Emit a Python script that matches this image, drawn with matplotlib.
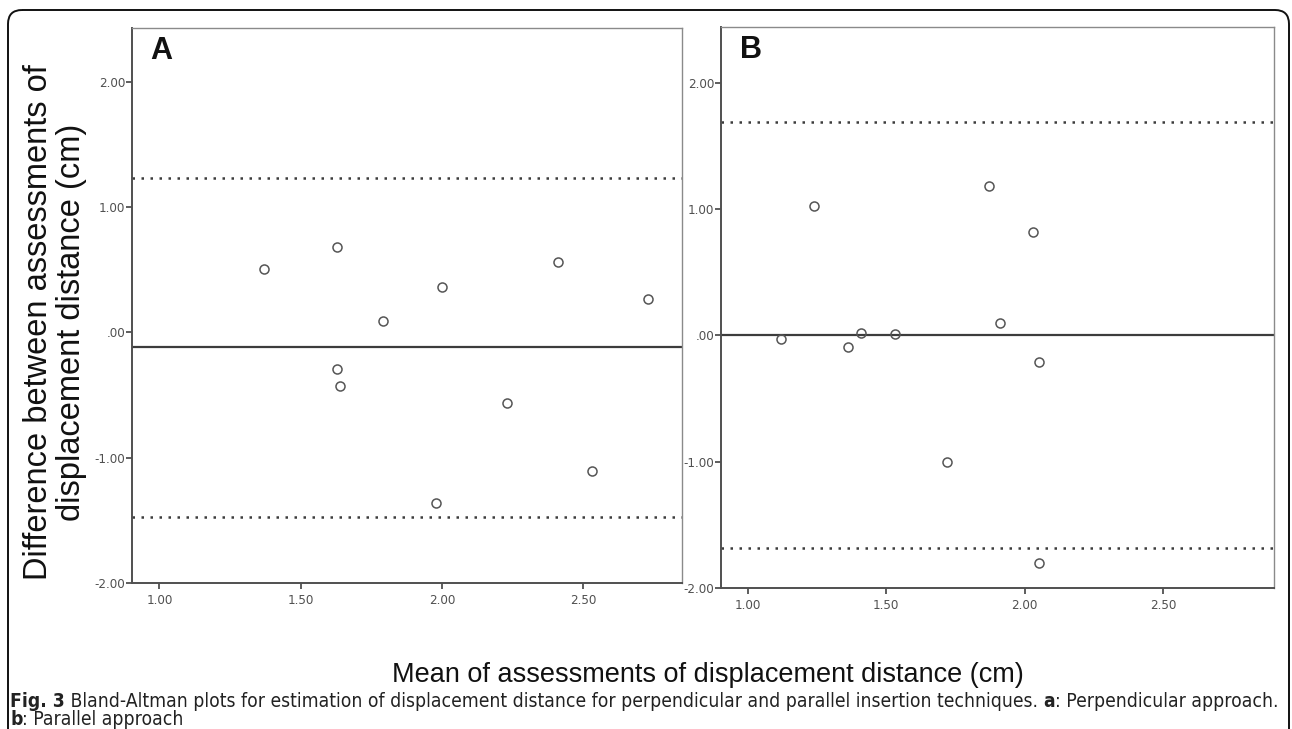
import numpy as np
import matplotlib
matplotlib.use("Agg")
import matplotlib.pyplot as plt
from matplotlib.patches import FancyBboxPatch
from matplotlib.ticker import FuncFormatter, FixedLocator
from matplotlib import font_manager

# panel A: perpendicular approach (mean of the two assessments, difference)
a_mean = [1.37, 1.63, 2.00, 2.41, 2.73, 1.79, 1.63, 1.64, 2.23, 1.98, 2.53]
a_diff = [0.51, 0.68, 0.36, 0.56, 0.27, 0.09, -0.29, -0.43, -0.56, -1.36, -1.11]
a_bias = -0.12
a_loa = [1.23, -1.47]

# panel B: parallel approach
b_mean = [1.24, 1.87, 2.03, 1.12, 1.36, 1.41, 1.53, 1.91, 2.05, 1.72, 2.05]
b_diff = [1.02, 1.18, 0.82, -0.03, -0.09, 0.02, 0.01, 0.10, -0.21, -1.00, -1.80]
b_bias = 0.00
b_loa = [1.69, -1.68]

x_ticks = [1.0, 1.5, 2.0, 2.5]
y_ticks = [-2.0, -1.0, 0.0, 1.0, 2.0]

ylabel = "Difference between assessments of\ndisplacement distance (cm)"
xlabel = "Mean of assessments of displacement distance (cm)"
cap_bold1 = "Fig. 3"
cap_text1 = (" Bland-Altman plots for estimation of displacement distance for perpendicular "
             "and parallel insertion techniques. ")
cap_bold2 = "a"
cap_text2 = ": Perpendicular approach."
cap_bold3 = "b"
cap_text3 = ": Parallel approach"

# pick a condensed face if one is installed
cond = [f for f in font_manager.fontManager.ttflist
        if "ondensed" in f.name or "Narrow" in f.name or f.stretch in ("condensed", 75, "semi-condensed", 87.5)]
if any(f.name == "DejaVu Sans" and f.stretch in ("condensed", 75) for f in font_manager.fontManager.ttflist):
    narrow, stretch = "DejaVu Sans", "condensed"
elif cond:
    narrow, stretch = cond[0].name, cond[0].stretch
else:
    narrow, stretch = "Liberation Sans", "normal"

W, H = 1292, 729
fig = plt.figure(figsize=(W / 100, H / 100), dpi=100)

# background axes in pixel units for the rounded frame
bg = fig.add_axes([0, 0, 1, 1], zorder=-5)
bg.set_xlim(0, W)
bg.set_ylim(H, 0)
bg.axis("off")
frame = FancyBboxPatch((8, 10), 1281, 740, boxstyle="round,pad=0,rounding_size=14",
                       fc="none", ec="#111111", lw=1.4)
bg.add_patch(frame)


def fmt(v, pos):
    s = "%.2f" % v
    if s.startswith("0."):
        s = s[1:]
    if s == "-0.00":
        s = ".00"
    return s


def panel(rect, xs, ys, bias, loa, letter, xmax, ymax):
    ax = fig.add_axes(rect)
    ax.axhline(bias, color="#3c3c3c", lw=1.6, zorder=2)
    for v in loa:
        ax.axhline(v, color="#3c3c3c", lw=1.8, ls=(0, (1, 2.6)), zorder=2)
    ax.plot(xs, ys, "o", ms=6.5, mfc="none", mec="#555555", mew=1.1, zorder=3)
    ax.set_xlim(0.903, xmax)
    ax.set_ylim(-2.0, ymax)
    ax.xaxis.set_major_locator(FixedLocator(x_ticks))
    ax.yaxis.set_major_locator(FixedLocator(y_ticks))
    ax.xaxis.set_major_formatter(FuncFormatter(fmt))
    ax.yaxis.set_major_formatter(FuncFormatter(fmt))
    for s in ["top", "right"]:
        ax.spines[s].set_color("#8a8a8a")
        ax.spines[s].set_linewidth(1.0)
    for s in ["left", "bottom"]:
        ax.spines[s].set_color("#505050")
        ax.spines[s].set_linewidth(1.4)
    ax.tick_params(axis="both", direction="out", length=4, width=1.3, color="#505050",
                   labelcolor="#505050", labelsize=9.5)
    ax.tick_params(axis="x", pad=4)
    ax.tick_params(axis="y", pad=1)
    for lab in ax.get_xticklabels() + ax.get_yticklabels():
        lab.set_family(narrow)
        lab.set_stretch(stretch)
    ax.text(0.034, 0.985, letter, transform=ax.transAxes, ha="left", va="top",
            fontsize=22, fontweight="bold", family="Liberation Sans", color="#111111")
    return ax


axA = panel([132 / W, 1 - 583 / H, 550 / W, 555 / H], a_mean, a_diff, a_bias, a_loa, "A", 2.85, 2.43)
axB = panel([721 / W, 1 - 588 / H, 553 / W, 561 / H], b_mean, b_diff, b_bias, b_loa, "B", 2.90, 2.44)

fig.text(55 / W, 1 - 322 / H, ylabel, rotation=90, ha="center", va="center",
         fontsize=23.5, family="Liberation Sans", color="#111111", linespacing=1.1)
fig.text(708 / W, 1 - 675 / H, xlabel, ha="center", va="center",
         fontsize=19.5, family="Liberation Sans", color="#111111")

# caption: bold and regular pieces placed one after another
r = fig.canvas.get_renderer()


def run(pieces, x0, y, size):
    x = x0
    out = []
    for txt, bold in pieces:
        t = fig.text(x / W, 1 - y / H, txt, ha="left", va="baseline", fontsize=size,
                     family=narrow, stretch=stretch,
                     fontweight="bold" if bold else "normal", color="#222222")
        out.append(t)
        x += t.get_window_extent(r).width
    return x, out


line1 = [(cap_bold1, True), (cap_text1, False), (cap_bold2, True), (cap_text2, False)]
end, texts = run(line1, 10, 707, 12.5)
size = 12.5 * (1273 / (end - 10))
for t in texts:
    t.remove()
run(line1, 10, 707, size)
run([(cap_bold3, True), (cap_text3, False)], 10, 725, size)

fig.savefig("out.png", dpi=100)
